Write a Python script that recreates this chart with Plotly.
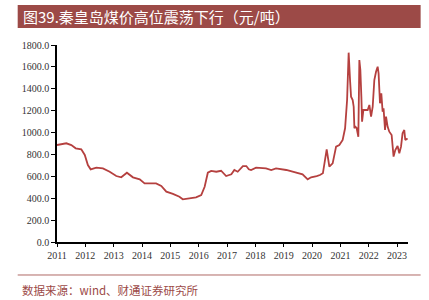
import plotly.graph_objects as go

dates = ["2011-01-01","2011-05-01","2011-07-05","2011-08-30","2011-11-10","2011-12-25",
"2012-02-03","2012-03-10","2012-05-22","2012-08-15","2012-11-10",
"2013-02-03","2013-04-08","2013-06-20","2013-09-06","2013-12-02",
"2014-02-03","2014-04-08","2014-07-01","2014-09-06","2014-11-10",
"2015-02-03","2015-04-28","2015-06-10","2015-08-15","2015-11-28",
"2016-02-03","2016-03-18","2016-04-28","2016-06-10","2016-08-15","2016-10-16","2016-12-20",
"2017-02-25","2017-04-05","2017-05-18","2017-07-24","2017-09-06","2017-10-08","2017-11-06",
"2018-01-10","2018-05-18","2018-07-24","2018-09-24",
"2019-02-03","2019-06-10","2019-09-01","2019-11-06","2019-12-20",
"2020-03-01","2020-04-12","2020-05-20","2020-06-15","2020-07-08","2020-08-11","2020-09-23","2020-11-06","2020-12-18",
"2021-01-30","2021-03-02","2021-03-28","2021-04-17","2021-05-05","2021-05-18","2021-06-08","2021-06-21","2021-06-30",
"2021-07-12","2021-07-29","2021-08-20","2021-09-02","2021-09-15","2021-09-28","2021-10-07","2021-10-24","2021-12-18",
"2022-01-09","2022-01-31","2022-02-21","2022-03-14","2022-04-05","2022-04-26","2022-05-08","2022-05-26","2022-06-12",
"2022-06-29","2022-07-11","2022-07-30","2022-08-12","2022-09-01","2022-09-23","2022-10-23","2022-11-17","2022-12-09",
"2023-01-08","2023-01-30","2023-02-21","2023-03-13","2023-04-04","2023-04-17","2023-05-16"]

prices = [886,902,886,856,847,795,
703,664,679,673,642,
603,591,633,591,573,
536,536,536,512,460,
439,414,390,399,408,
429,505,633,649,642,651,603,
618,658,642,694,694,664,658,
679,673,658,673,
658,636,618,573,591,
603,612,628,734,847,688,719,871,886,
932,1039,1297,1730,1480,1328,1297,1236,1039,
1054,1042,962,1663,1571,1328,1100,1206,1206,
1252,1145,1236,1480,1556,1602,1541,1267,1358,
1190,1221,1023,1145,1054,1008,978,780,840,
877,810,871,993,1023,932,947]

year_ticks = [f"{y}-01-01" for y in range(2011, 2024)]
year_labels = [str(y) for y in range(2011, 2024)]
y_ticks = [0, 200, 400, 600, 800, 1000, 1200, 1400, 1600, 1800]

title_text = "图39.秦皇岛煤价高位震荡下行（元/吨）"
source_text = "数据来源：wind、财通证券研究所"

fig = go.Figure()
fig.add_trace(go.Scatter(x=dates, y=prices, mode="lines",
                         line=dict(color="#B5403F", width=1.8), showlegend=False,
                         hoverinfo="skip"))

serif = "Liberation Serif, Times New Roman, serif"
fig.update_layout(
    width=429, height=300,
    margin=dict(l=57, r=21, t=45, b=58),
    paper_bgcolor="white", plot_bgcolor="white",
    xaxis=dict(range=["2011-01-01", "2023-05-22"], tickvals=year_ticks, ticktext=year_labels,
               showgrid=False, zeroline=False, showline=True, linecolor="black", linewidth=1.5,
               ticks="outside", ticklen=3, tickcolor="black",
               tickfont=dict(family=serif, size=10, color="#333")),
    yaxis=dict(range=[0, 1800], tickvals=y_ticks, tickformat=".1f",
               showgrid=False, zeroline=False, showline=True, linecolor="black", linewidth=1.5,
               ticks="outside", ticklen=4, tickcolor="black",
               tickfont=dict(family=serif, size=10, color="#333")),
    shapes=[
        dict(type="rect", xref="paper", yref="paper", x0=-0.112, x1=1.036, y0=1.086, y1=1.203,
             fillcolor="#9C4A47", line=dict(width=0), layer="above"),
        dict(type="line", xref="paper", yref="paper", x0=-0.112, x1=1.036, y0=-0.1675, y1=-0.1675,
             line=dict(color="#B06A66", width=1)),
    ],
    annotations=[
        dict(text=title_text, xref="paper", yref="paper", x=-0.103, y=1.145,
             xanchor="left", yanchor="middle", showarrow=False,
             font=dict(family="Noto Sans CJK SC", size=15, color="white")),
        dict(text=source_text, xref="paper", yref="paper", x=-0.106, y=-0.244,
             xanchor="left", yanchor="middle", showarrow=False,
             font=dict(family="Noto Sans CJK SC", size=11.5, color="#9C4A47")),
    ],
)

fig.write_html("out.html")
